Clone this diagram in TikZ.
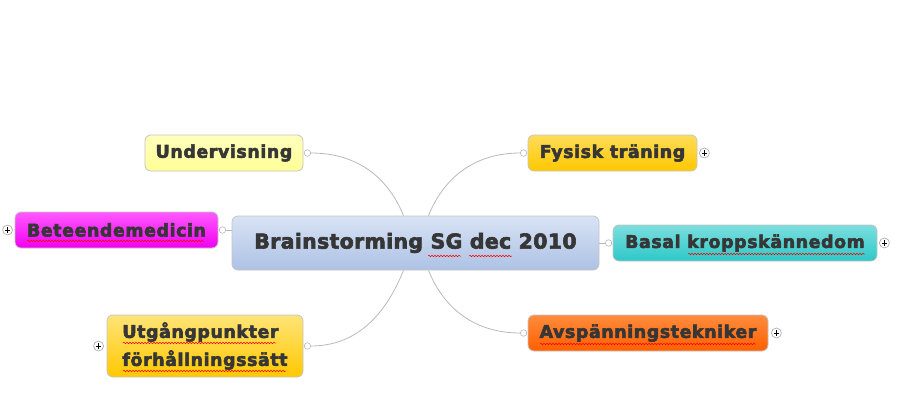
\documentclass[tikz,border=0pt]{standalone}
\usepackage{fontspec}
\setmainfont{DejaVu Sans}[BoldFeatures={FakeBold=3}]
\usetikzlibrary{decorations.pathmorphing,calc}
\definecolor{txt}{HTML}{363636}
\definecolor{edge}{HTML}{C4C4C4}
\definecolor{wire}{HTML}{B8B8B8}
\definecolor{cTop}{HTML}{D8E3F4}
\definecolor{cBot}{HTML}{ADC2E5}
\begin{document}
\begin{tikzpicture}[x=1pt,y=-1pt,
  topic/.style={draw=edge, line width=0.8pt, rounded corners=6pt, inner sep=0pt,
    text=txt, font=\fontsize{17.5}{28}\selectfont\bfseries\addfontfeatures{LetterSpace=3}, minimum height=36pt},
  central/.style={topic, font=\fontsize{20.5}{24}\selectfont\bfseries\addfontfeatures{LetterSpace=1.5},
    top color=cTop, bottom color=cBot},
  conn/.style={circle, draw=wire, fill=white, line width=0.6pt, minimum size=6.5pt, inner sep=0pt},
  plusbtn/.style={circle, draw=gray!70, fill=white, line width=0.6pt, minimum size=10pt, inner sep=0pt,
    path picture={\draw[black, line width=0.8pt]
      ($(path picture bounding box.center)+(-2.6,0)$) -- ($(path picture bounding box.center)+(2.6,0)$)
      ($(path picture bounding box.center)+(0,-2.6)$) -- ($(path picture bounding box.center)+(0,2.6)$);}},
  wireline/.style={draw=wire, line width=0.8pt},
  squig/.style={draw=red, line width=0.5pt, decorate,
    decoration={snake, amplitude=0.8pt, segment length=3pt}}
]
\useasboundingbox (0,0) rectangle (916,415);

\node[central, minimum width=367pt, minimum height=54pt] (ctr) at (415.5,243) {Brainstorming SG dec 2010};
\coordinate (ctrUL) at ([xshift=-12pt]ctr.north);
\coordinate (ctrUR) at ([xshift=13pt]ctr.north);
\coordinate (ctrDL) at ([xshift=-12pt]ctr.south);
\coordinate (ctrDR) at ([xshift=13pt]ctr.south);

\node[topic, top color={rgb,255:red,255;green,255;blue,190}, bottom color={rgb,255:red,255;green,255;blue,150}, minimum width=158pt] (und) at (224,153) {Undervisning};
\node[topic, top color={rgb,255:red,255;green,90;blue,255}, bottom color={rgb,255:red,240;green,0;blue,240}, minimum width=203pt] (bet) at (116.5,230) {Beteendemedicin};
\node[topic, top color={rgb,255:red,255;green,228;blue,120}, bottom color={rgb,255:red,255;green,200;blue,0}, minimum width=196pt, minimum height=62pt, align=left] (utg) at (205,346) {Utgångpunkter\\förhållningssätt};
\node[topic, top color={rgb,255:red,255;green,220;blue,90}, bottom color={rgb,255:red,255;green,200;blue,0}, minimum width=169pt] (fys) at (612.5,153) {Fysisk träning};
\node[topic, top color={rgb,255:red,125;green,222;blue,222}, bottom color={rgb,255:red,45;green,200;blue,200}, minimum width=264pt] (bas) at (745,243) {Basal kroppskännedom};
\node[topic, top color={rgb,255:red,255;green,140;blue,60}, bottom color={rgb,255:red,255;green,95;blue,0}, minimum width=240pt] (avs) at (648,333) {Avspänningstekniker};

% connection circles
\node[conn] (cUnd) at ([xshift=4pt]und.east) {};
\node[conn] (cBet) at ([xshift=4pt]bet.east) {};
\node[conn] (cUtg) at ([xshift=4pt]utg.east) {};
\node[conn] (cFys) at ([xshift=-4pt]fys.west) {};
\node[conn] (cBas) at ([xshift=-4pt]bas.west) {};
\node[conn] (cAvs) at ([xshift=-4pt]avs.west) {};

% curves (angles are in page orientation)
\draw[wireline] (cUnd.east) to[out=0, in=112] (ctrUL);
\draw[wireline] (cFys.west) to[out=180, in=68] (ctrUR);
\draw[wireline] (cUtg.east) to[out=0, in=248] (ctrDL);
\draw[wireline] (cAvs.west) to[out=180, in=292] (ctrDR);
\draw[wireline] (cBet.east) -- (cBet.east -| ctr.west);
\draw[wireline] (cBas.west) -- (ctr.east);

% expand buttons
\node[plusbtn] (pBet) at ([xshift=-7pt]bet.west) {};
\node[plusbtn] (pUtg) at ([xshift=-8pt]utg.west) {};
\node[plusbtn] (pFys) at ([xshift=7pt]fys.east) {};
\node[plusbtn] (pBas) at ([xshift=7pt]bas.east) {};
\node[plusbtn] (pAvs) at ([xshift=8pt]avs.east) {};

% spell-check underlines
\draw[squig] (428,256) -- (461,256);
\draw[squig] (469,256) -- (512,256);
\draw[squig] (27,241) -- (204,241);
\draw[squig] (123,343) -- (276,343);
\draw[squig] (123,371) -- (286,371);
\draw[squig] (688,254) -- (865,254);
\draw[squig] (540,344) -- (756,344);
\end{tikzpicture}
\end{document}
